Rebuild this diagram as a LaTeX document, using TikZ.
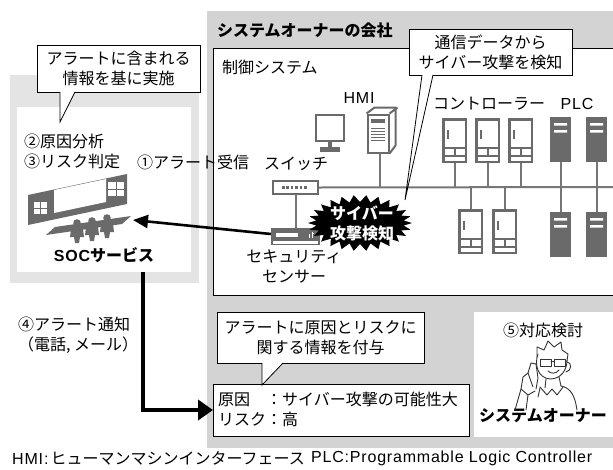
\documentclass[tikz,border=0pt]{standalone}
\usepackage{fontspec}
\setmainfont{Noto Sans CJK JP}
\newfontfamily\latin[LetterSpace=5]{Liberation Sans}
\usetikzlibrary{arrows.meta,calc}
\definecolor{companygray}{HTML}{D3D3D3}
\definecolor{socgray}{HTML}{E4E4E4}
\definecolor{icongray}{HTML}{6A6A6A}
\definecolor{linegray}{HTML}{767676}
\definecolor{inkgray}{HTML}{333333}

\begin{document}
\begin{tikzpicture}[x=1pt,y=-1pt,
  lbl/.style={font=\fontsize{16}{20}\selectfont, inner sep=0pt, align=center},
  boldlbl/.style={font=\fontsize{16}{20}\selectfont\bfseries, inner sep=0pt, align=center},
  callout/.style={draw=black, line width=0.8pt, fill=white, inner sep=0pt},
  wire/.style={draw=linegray, line width=2pt},
  cabinet/.style={draw=icongray, line width=2.5pt, fill=white, inner sep=0pt,
    minimum width=22.5pt, minimum height=42.5pt},
  plcbox/.style={fill=icongray, inner sep=0pt, outer sep=0pt, minimum width=21pt, minimum height=45pt},
  alertarrow/.style={line width=2.6pt, -{Triangle[length=15pt,width=13pt]}},
  notifyarrow/.style={line width=3.8pt, -{Triangle[length=15pt,width=20pt]}},
  person/.style={draw=inkgray, line width=0.9pt, line cap=round, line join=round},
]
\fill[white] (0,0) rectangle (613,469);
\useasboundingbox (0,0) rectangle (613,469);

% ---- company area and control system frame
\fill[companygray] (207,11) rectangle (613,448);
\draw[fill=white, line width=0.9pt] (614,48) -- (213,48) -- (213,295) -- (614,295);
\node[boldlbl, anchor=west] (company) at (217,30) {システムオーナーの会社};
\node[lbl, anchor=west] (ctrl) at (222,67) {制御システム};

% ---- SOC area
\fill[socgray] (10,75) rectangle (199,283);
\fill[white] (17,107) rectangle (191,272);
\node[lbl, anchor=west, align=left] (analysis) at (24,151) {②原因分析\\③リスク判定};
\node[boldlbl] (soc) at (104,255) {{\latin\bfseries SOC}サービス};

% SOC operations room icon
\fill[icongray] (28,195) -- (127,174) -- (127,204) -- (28,225) -- cycle;
\fill[white] (54,190) -- (106,179) -- (106,202) -- (54,213) -- cycle;
\fill[white] (34,202) rectangle (47,214);
\draw[icongray, line width=0.8pt] (40.5,202) -- (40.5,214) (34,208) -- (47,208);
\fill[white] (108,182) rectangle (124,196);
\draw[icongray, line width=0.8pt] (116,182) -- (116,196) (108,189) -- (124,189);
\fill[icongray] (46,235) -- (55,227) -- (131,216) -- (122,224) -- cycle;
\foreach \px/\py in {77/223, 92/221, 107/218}{
  \fill[icongray] (\px,\py) circle (3.8);
  \fill[icongray] (\px-7,\py+14) -- (\px-6,\py+6) .. controls (\px-4,\py+3) and (\px+4,\py+3) .. (\px+6,\py+6)
     -- (\px+7,\py+14) -- (\px+3,\py+14) -- (\px+2,\py+20) -- (\px-2,\py+20) -- (\px-3,\py+14) -- cycle;
}
\coordinate (socicon) at (133,220);

% callout above the SOC
\node[callout, lbl, minimum width=163pt, minimum height=47pt] (note1) at (118.5,68.5)
  {アラートに含まれる\\情報を基に実施};
\fill[white] (60,91.5) -- (60,122) -- (75,91.5) -- cycle;
\draw[line width=0.8pt] (60,92) -- (60,122) -- (75,92);

% ---- control network
\node[lbl] (hmilbl) at (359,98) {\latin HMI};
\node[lbl, anchor=west] (ctrllbl) at (433,104) {コントローラー};
\node[lbl] (plclbl) at (577,104) {\latin PLC};

% HMI monitor
\draw[icongray, line width=2.6pt] (316,115) rectangle (344,141);
\fill[icongray] (328,141) rectangle (332,148);
\fill[icongray] (320,147) rectangle (340,151.5);
% HMI tower
\node[draw=icongray, line width=2pt, fill=white, minimum width=21pt, minimum height=38pt, inner sep=0pt]
  (tower) at (378,133.5) {};
\draw[icongray, line width=2pt, line join=round] (tower.north west) -- ++(8,-6) -- ++(21,0) -- ++(0,38) -- (tower.south east)
  (tower.north east) -- ++(8,-6);
\fill[icongray] (371,119) rectangle (385,123);
\foreach \ly in {128,131,134,137,140}{\draw[icongray, line width=1pt] (371,\ly) -- (385,\ly);}

% switch and sensor
\node[lbl] (switchlbl) at (296,164) {スイッチ};
\node[draw=icongray, line width=2pt, fill=white, minimum width=45pt, minimum height=13pt, inner sep=0pt]
  (switch) at (295.5,187.5) {};
\foreach \dx in {0,...,5}{\fill[icongray] ($(switch.west)+(10+4.4*\dx,-1.3)$) rectangle ++(2.6,2.6);}
\node[fill=icongray, minimum width=49pt, minimum height=12pt, inner sep=0pt] (sensor) at (295.5,234) {};
\draw[icongray, line width=1.6pt, fill=white] (272,240) rectangle (319,244.5);
\fill[white] (276,232.5) rectangle (298,236.5);
\draw[white, line width=1pt] (309,238) -- (309,234) (312,238) -- (312,232) (312,233) -- (314,233);
\node[lbl] (sensorlbl) at (294,267) {セキュリティ\\センサー};

\coordinate (busend) at (614,187);
\draw[wire] (switch.east) -- (busend);
\draw[wire] (switch.south) -- (sensor.north);
\draw[wire] (380,153) -- (380,187);

% controllers
\node[cabinet] (c1) at (454.5,140.5) {};
\node[cabinet] (c2) at (487.5,140.5) {};
\node[cabinet] (c3) at (520.5,140.5) {};
\node[cabinet] (c4) at (470.5,231.5) {};
\node[cabinet] (c5) at (504.5,231.5) {};
\foreach \c in {c1,c2,c3,c4,c5}{
  \fill[icongray] ($(\c.north west)+(5,12)$) rectangle ++(2.2,9);
  \draw[icongray, line width=2pt] ($(\c.north west)+(1,30)$) -- ++(23,0)
    ($(\c.north west)+(1,37.5)$) -- ++(23,0)
    ($(\c.north west)+(12.5,30)$) -- ++(0,7.5);
}
\foreach \c in {c1,c2,c3}{\draw[wire] (\c.south) -- (\c.south |- busend);}
\foreach \c in {c4,c5}{\draw[wire] (\c.north) -- (\c.north |- busend);}

% PLCs
\node[plcbox] (p1) at (560.5,139.5) {};
\node[plcbox] (p2) at (596.5,139.5) {};
\node[plcbox] (p3) at (560.5,234.5) {};
\node[plcbox] (p4) at (596.5,234.5) {};
\foreach \p in {p1,p2,p3,p4}{
  \fill[white] ($(\p.north west)+(4,6)$) rectangle ++(13,2.6)
               ($(\p.north west)+(4,13)$) rectangle ++(13,2.6);
}
\draw[wire] (p1.south) -- (p3.north);
\draw[wire] (p2.south) -- (p4.north);

% detection burst
\fill[black] plot[samples at={0,...,51}, variable=\k]
  ({360 + (mod(\k,2)==0 ? 52 : 44)*cos(\k*6.9231)}, {223 + (mod(\k,2)==0 ? 28 : 21)*sin(\k*6.9231)}) -- cycle;
\node[boldlbl, text=white] (burst) at (362,223) {サイバー\\攻撃検知};

% callout on the detection
\node[callout, lbl, minimum width=163pt, minimum height=46pt] (note2) at (490.5,52)
  {通信データから\\サイバー攻撃を検知};
\fill[white] (422,74.5) -- (405,200) -- (433,74.5) -- cycle;
\draw[line width=0.8pt] (422,75) -- (405,200) -- (433,75);

% alert flow
\node[lbl, anchor=west] (recv) at (137,162) {①アラート受信};
\draw[alertarrow] (sensor.west) -- (socicon);

% ---- notification to the owner
\node[lbl, anchor=west, align=left] (notify) at (18,335) {④アラート通知\\（電話, メール）};
\node[callout, minimum width=256pt, minimum height=52pt, anchor=west] (causebox) at (213,410) {};
\node[lbl, anchor=west] (causetext) at (218,411)
  {\begin{tabular}{@{}l@{}l@{}}原因&：サイバー攻撃の可能性大\\ リスク&：高\end{tabular}};
\draw[notifyarrow] (143,272) |- (causebox.west);

\node[callout, lbl, minimum width=207pt, minimum height=51pt] (note3) at (320.5,337.5)
  {アラートに原因とリスクに\\関する情報を付与};
\fill[white] (262,362.5) -- (262,385) -- (283,362.5) -- cycle;
\draw[line width=0.8pt] (262,363) -- (262,385) -- (283,363);

% system owner
\fill[white] (474,312) rectangle (613,437);
\node[lbl] (step5) at (543,330) {⑤対応検討};
\node[boldlbl] (owner) at (543,416) {システムオーナー};
\begin{scope}[person]
\draw (538,354) .. controls (534,365) and (538,378) .. (550,379) .. controls (561,379) and (567,370) .. (567,360);
\draw (537,357) -- (537,347) -- (544,350) -- (548,341) -- (554,347) -- (561,342) -- (562,350) -- (568,354) -- (567,361);
\draw (540,359) rectangle (551,366) (554,359) rectangle (565,366) (551,361) -- (554,361);
\draw (567,362) .. controls (572,362) and (572,371) .. (566,372);
\draw (548,371) .. controls (551,374) and (556,374) .. (559,370);
\draw (546,379) -- (545,388) (559,377) -- (561,386);
\draw (540,387) -- (547,395) -- (552,389) -- (557,395) -- (563,387);
\draw (561,386) .. controls (571,388) and (575,396) .. (577,410);
\draw (533,387) -- (528,373) -- (531,363) -- (536,364) -- (538,378) -- (536,389);
\draw (528,373) -- (523,377) -- (521,389) -- (528,395) -- (535,391);
\draw (521,389) -- (515,410) (528,395) -- (526,410) (540,388) -- (538,397);
\end{scope}

% ---- abbreviations
\node[lbl, anchor=west] (hmidef) at (12,458) {{\latin HMI\kern1pt:}\kern2ptヒューマンマシンインターフェース};
\node[lbl, anchor=west] (plcdef) at (311,458) {\latin PLC:Programmable Logic Controller};
\end{tikzpicture}
\end{document}
